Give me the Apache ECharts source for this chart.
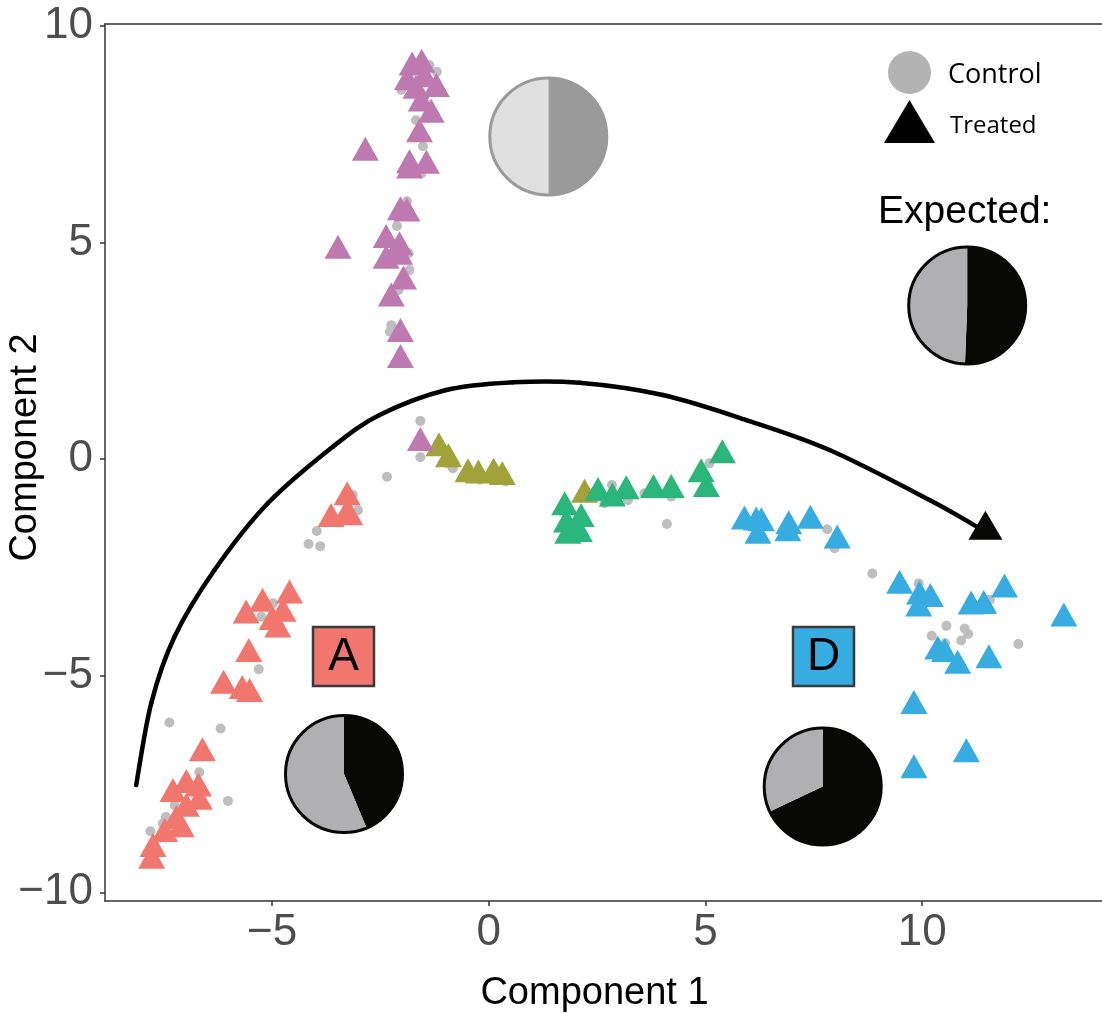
<!DOCTYPE html>
<html><head><meta charset="utf-8">
<script src="https://cdn.jsdelivr.net/npm/echarts@6/dist/echarts.min.js"></script>
<style>html,body{margin:0;padding:0;background:#fff}#c{width:1102px;height:1013px}</style>
</head><body><div id="c"></div>
<script>
// ---------- data ----------
const xTicks = [-5, 0, 5, 10];
const yTicks = [-10, -5, 0, 5, 10];

const controlPts = [
  [-1.20,8.94],[-1.37,9.09],[-2.02,8.52],[-1.68,7.82],[-1.52,7.22],[-1.56,6.59],[-1.89,5.95],
  [-2.12,5.38],[-1.85,4.75],[-1.83,4.36],[-2.08,3.90],[-2.25,3.09],[-2.28,2.94],
  [-1.58,0.88],[-1.58,0.04],[-2.35,-0.41],[-0.83,-0.21],[-0.94,-0.10],[-0.21,-0.48],[0.39,-0.52],
  [2.84,-0.60],[3.21,-0.95],[2.67,-1.02],[3.59,-0.79],[4.21,-0.87],[4.11,-1.50],[5.09,-0.10],
  [7.81,-1.62],[7.98,-2.06],[8.85,-2.64],[9.92,-2.87],[11.56,-3.25],[10.56,-3.85],[10.22,-4.08],
  [10.98,-3.91],[11.06,-4.04],[10.90,-4.19],[10.53,-4.25],[12.22,-4.27],
  [-3.97,-1.66],[-4.16,-1.96],[-3.89,-2.01],[-3.02,-1.18],[-3.14,-0.83],[-4.98,-3.33],[-5.25,-3.64],
  [-5.31,-4.85],[-7.37,-6.08],[-6.19,-6.22],[-6.68,-7.23],[-6.02,-7.89],[-7.25,-7.99],[-7.45,-8.26],
  [-7.52,-8.41],[-7.81,-8.59]
];

const treatedSalmon = [
  [-3.27,-0.79],[-3.64,-1.29],[-3.29,-1.22],[-3.21,-1.25],[-4.60,-3.06],[-5.22,-3.25],[-5.60,-3.52],
  [-4.75,-3.48],[-5.00,-3.67],[-4.87,-3.84],[-5.54,-4.41],[-6.12,-5.14],[-5.69,-5.26],[-5.52,-5.33],
  [-6.61,-6.70],[-6.98,-7.43],[-6.70,-7.51],[-7.29,-7.64],[-6.68,-7.82],[-6.98,-7.98],[-7.21,-8.26],
  [-7.10,-8.45],[-7.48,-8.56],[-7.75,-8.91],[-7.78,-9.18]
];
const treatedOlive = [
  [-1.15,0.34],[-0.93,0.09],[-0.48,-0.26],[-0.24,-0.29],[0.11,-0.25],[0.31,-0.32],[2.21,-0.73]
];
const treatedGreen = [
  [1.75,-1.02],[2.13,-1.29],[1.79,-1.42],[1.82,-1.68],[2.09,-1.64],[2.52,-0.69],[2.85,-0.82],
  [3.17,-0.65],[3.80,-0.62],[4.21,-0.62],[4.90,-0.26],[5.02,-0.60],[5.39,0.18]
];
const treatedBlue = [
  [5.90,-1.35],[6.17,-1.37],[6.29,-1.39],[6.21,-1.68],[6.92,-1.46],[6.90,-1.62],[7.42,-1.33],
  [8.04,-1.79],[9.48,-2.83],[9.94,-3.08],[10.19,-3.14],[9.92,-3.36],[11.13,-3.31],[11.42,-3.30],
  [11.90,-2.92],[13.27,-3.59],[10.36,-4.35],[10.52,-4.41],[10.82,-4.68],[11.54,-4.55],[9.81,-5.61],
  [11.02,-6.72],[9.81,-7.09]
];
const treatedPurple = [
  [-1.77,9.13],[-1.55,9.19],[-1.68,8.59],[-1.21,8.63],[-1.48,8.86],[-1.88,8.79],[-1.56,8.30],
  [-1.33,8.04],[-1.60,7.59],[-2.85,7.16],[-1.83,6.87],[-1.44,6.86],[-1.83,6.75],[-2.04,5.79],
  [-1.89,5.76],[-3.48,4.90],[-2.37,5.15],[-2.06,4.98],[-2.37,4.67],[-2.06,4.76],[-1.97,4.19],
  [-2.25,3.80],[-2.04,2.98],[-2.04,2.38],[-1.58,0.46]
];

// hand-drawn trajectory arrow
const trajectory = [
  [-8.137,-7.524],[-7.791,-5.638],[-7.253,-4.101],[-6.330,-2.562],[-5.100,-1.022],[-3.600,0.284],
  [-2.522,1.015],[-0.983,1.592],[0.554,1.770],[2.093,1.761],[4.016,1.477],[5.940,0.900],
  [7.863,0.208],[10.171,-0.946],[11.325,-1.599]
];
const arrowHead = [[11.46, -1.53]];

// pie shares: [treated, control]
const pieTop = [50, 50];
const pieExpected = [50.6, 49.4];
const pieA = [43.7, 56.3];
const pieD = [68, 32];

// ---------- styles ----------
const clusterColors = { salmon:'#F1766E', olive:'#A2A23A', green:'#2BB67B', blue:'#36ACE1', purple:'#BE79B1' };
const FONT = 'Liberation Sans, Arial, Helvetica, sans-serif';
const LFONT = 'Open Sans, Noto Sans, sans-serif';
const fmt = v => (v < 0 ? '\u2212' + Math.abs(v) : String(v));

const treatedData = [];
[[treatedSalmon,'salmon'],[treatedOlive,'olive'],[treatedGreen,'green'],[treatedBlue,'blue'],[treatedPurple,'purple']]
  .forEach(([arr, key]) => arr.forEach(p => treatedData.push({ value: p, itemStyle: { color: clusterColors[key], opacity: 1 } })));

function pieSeries(name, center, values, colors) {
  return {
    type: 'pie', name, center, radius: 58.5, startAngle: 90, clockwise: true,
    silent: true, label: { show: false }, labelLine: { show: false }, z: 10,
    itemStyle: { borderWidth: 0 },
    data: values.map((v, i) => ({ value: v, name: name + i, itemStyle: { color: colors[i] } }))
  };
}

// Catmull-Rom segment between trajectory[i] and trajectory[i+1], drawn via axis scales
function renderTrajectorySegment(params, api) {
  const i = params.dataIndex;
  const n = trajectory.length;
  if (i >= n - 1) return null;
  const P = k => api.coord(trajectory[Math.max(0, Math.min(n - 1, k))]);
  const p0 = P(i - 1), p1 = P(i), p2 = P(i + 1), p3 = P(i + 2);
  return {
    type: 'bezierCurve',
    shape: {
      x1: p1[0], y1: p1[1], x2: p2[0], y2: p2[1],
      cpx1: p1[0] + (p2[0] - p0[0]) / 6, cpy1: p1[1] + (p2[1] - p0[1]) / 6,
      cpx2: p2[0] - (p3[0] - p1[0]) / 6, cpy2: p2[1] - (p3[1] - p1[1]) / 6
    },
    style: { fill: null, stroke: '#000', lineWidth: 4.5, lineCap: 'round' }
  };
}

const chart = echarts.init(document.getElementById('c'), null, { renderer: 'canvas' });
chart.setOption({
  animation: false,
  backgroundColor: '#fff',
  grid: { left: 105, right: 0, top: 24, bottom: 112, containLabel: false, outerBoundsMode: 'none' },
  xAxis: [{
    type: 'value', min: -8.857, max: 14.15, splitLine: { show: false },
    axisLine: { onZero: false, lineStyle: { color: '#333', width: 1.5 } },
    axisTick: { customValues: xTicks, length: 5, lineStyle: { color: '#333', width: 1.5 } },
    axisLabel: { customValues: xTicks, formatter: fmt, fontSize: 44, fontFamily: FONT, color: '#4D4D4D', margin: 10 },
    name: 'Component 1', nameLocation: 'middle', nameGap: 74, nameMoveOverlap: false,
    nameTextStyle: { fontSize: 38, fontFamily: FONT, color: '#000', padding: [0, 18, 0, 0] }
  }, {
    type: 'value', position: 'top', min: -8.857, max: 14.15, splitLine: { show: false },
    axisLine: { show: true, onZero: false, lineStyle: { color: '#333', width: 1.5 } },
    axisTick: { show: false }, axisLabel: { show: false }
  }],
  yAxis: {
    type: 'value', min: -10.2, max: 10.04, splitLine: { show: false },
    axisLine: { show: true, onZero: false, lineStyle: { color: '#333', width: 1.5 } },
    axisTick: { show: true, customValues: yTicks, length: 5, lineStyle: { color: '#333', width: 1.5 } },
    axisLabel: { customValues: yTicks, formatter: fmt, fontSize: 44, fontFamily: FONT, color: '#4D4D4D', margin: 12 },
    name: 'Component 2', nameLocation: 'middle', nameGap: 60, nameMoveOverlap: false,
    nameTextStyle: { fontSize: 38, fontFamily: FONT, color: '#000', padding: [0, 0, 0, 30] }
  },
  legend: {
    orient: 'vertical', left: 884, top: 51, padding: 0, itemGap: 6,
    itemWidth: 51, itemHeight: 43, selectedMode: false,
    formatter: name => '\n' + name,
    data: [
      { name: 'Control', icon: 'circle', itemStyle: { color: '#B3B3B3', opacity: 1 },
        textStyle: { fontSize: 27, lineHeight: 5, fontFamily: LFONT, color: '#000', padding: [0,0,0,8] } },
      { name: 'Treated', icon: 'triangle', itemStyle: { color: '#000', opacity: 1 },
        textStyle: { fontSize: 24, lineHeight: 10, fontFamily: LFONT, color: '#000', padding: [0,0,0,10] } }
    ]
  },
  series: [
    { name: 'Control', type: 'scatter', symbol: 'circle', symbolSize: 10, z: 2,
      itemStyle: { color: '#BEBEBE', opacity: 1 }, data: controlPts },
    { name: 'Treated', type: 'scatter', symbol: 'triangle', symbolSize: [27, 24], z: 3,
      itemStyle: { color: '#000', opacity: 1 }, data: treatedData },
    { name: 'Trajectory', type: 'custom', z: 4, silent: true,
      renderItem: renderTrajectorySegment, data: trajectory },
    { name: 'Trajectory end', type: 'scatter', symbol: 'triangle', symbolSize: [34, 29], z: 5,
      itemStyle: { color: '#070705', opacity: 1 }, data: arrowHead },
    pieSeries('pieTop', [548.3, 136.5], pieTop, ['#9A9A9A', '#E0E0E0']),
    pieSeries('pieExpected', [967.2, 305.5], pieExpected, ['#070705', '#B0B0B2']),
    pieSeries('pieA', [344, 774], pieA, ['#070705', '#B0B0B2']),
    pieSeries('pieD', [822.7, 786.5], pieD, ['#070705', '#B0B0B2'])
  ],
  graphic: [
    { type: 'circle', z: 100, shape: { cx: 548.3, cy: 136.5, r: 58.5 }, style: { fill: null, stroke: '#9A9A9A', lineWidth: 3 } },
    { type: 'circle', z: 100, shape: { cx: 967.2, cy: 305.5, r: 58.5 }, style: { fill: null, stroke: '#070705', lineWidth: 3 } },
    { type: 'circle', z: 100, shape: { cx: 344, cy: 774, r: 58.5 }, style: { fill: null, stroke: '#070705', lineWidth: 3 } },
    { type: 'circle', z: 100, shape: { cx: 822.7, cy: 786.5, r: 58.5 }, style: { fill: null, stroke: '#070705', lineWidth: 3 } },
    { type: 'rect', z: 100, shape: { x: 313, y: 627, width: 61, height: 59 }, style: { fill: '#F1766E', stroke: '#3A3A3A', lineWidth: 2.5 } },
    { type: 'text', z: 101, style: { text: 'A', x: 343.5, y: 657, align: 'center', verticalAlign: 'middle', textAlign: 'center', textVerticalAlign: 'middle', font: '46px ' + FONT, fill: '#000' } },
    { type: 'rect', z: 100, shape: { x: 793, y: 627, width: 61, height: 59 }, style: { fill: '#36ACE1', stroke: '#3A3A3A', lineWidth: 2.5 } },
    { type: 'text', z: 101, style: { text: 'D', x: 823.5, y: 657, align: 'center', verticalAlign: 'middle', textAlign: 'center', textVerticalAlign: 'middle', font: '46px ' + FONT, fill: '#000' } },
    { type: 'text', z: 101, style: { text: 'Expected:', x: 878, y: 212, align: 'left', verticalAlign: 'middle', textAlign: 'left', textVerticalAlign: 'middle', font: '39px ' + FONT, fill: '#000' } }
  ]
});
</script></body></html>
